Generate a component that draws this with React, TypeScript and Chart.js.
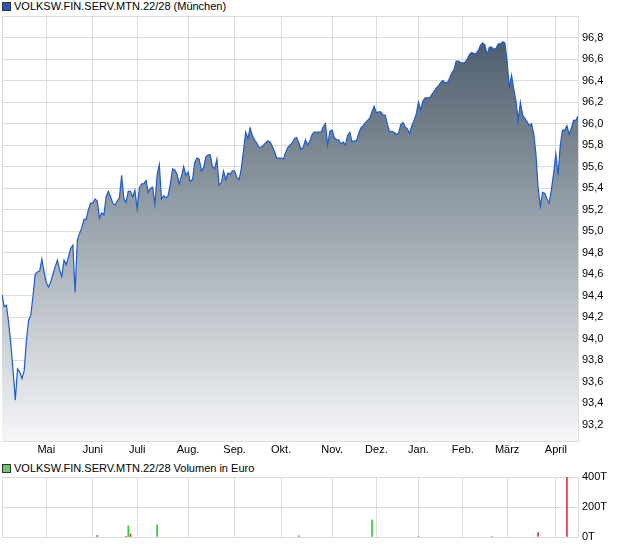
import React, { useEffect, useRef } from 'react';
import { Chart, registerables } from 'chart.js';

Chart.register(...registerables);

const TITLE = 'VOLKSW.FIN.SERV.MTN.22/28 (München)';
const VOLUME_TITLE = 'VOLKSW.FIN.SERV.MTN.22/28 Volumen in Euro';

// month labels and the trading-day index where each month starts
const monthLabels = ['Mai', 'Juni', 'Juli', 'Aug.', 'Sep.', 'Okt.', 'Nov.', 'Dez.', 'Jan.', 'Feb.', 'März', 'April'];
const monthStartIndex = [20, 41, 61, 84, 105, 126, 149, 169, 188, 208, 228, 250];

// daily prices (one per trading day)
const priceValues = [
  94.41, 94.30, 94.31, 94.15, 93.95, 93.70, 93.43, 93.72, 93.69, 93.63,
  93.70, 93.98, 94.17, 94.22, 94.40, 94.60, 94.62, 94.63, 94.74, 94.62,
  94.52, 94.48, 94.53, 94.60, 94.67, 94.73, 94.64, 94.58, 94.73, 94.69,
  94.76, 94.84, 94.87, 94.43, 94.92, 94.98, 95.03, 95.11, 95.11, 95.20,
  95.26, 95.26, 95.30, 95.28, 95.12, 95.17, 95.15, 95.32, 95.37, 95.32,
  95.26, 95.24, 95.28, 95.31, 95.52, 95.30, 95.27, 95.37, 95.37, 95.32,
  95.38, 95.21, 95.40, 95.44, 95.44, 95.47, 95.36, 95.40, 95.41, 95.25,
  95.52, 95.62, 95.30, 95.33, 95.31, 95.33, 95.44, 95.58, 95.57, 95.53,
  95.44, 95.51, 95.60, 95.52, 95.55, 95.46, 95.48, 95.64, 95.68, 95.67,
  95.56, 95.59, 95.69, 95.71, 95.71, 95.60, 95.58, 95.67, 95.43, 95.45,
  95.56, 95.48, 95.54, 95.53, 95.56, 95.56, 95.50, 95.48, 95.58, 95.75,
  95.92, 95.86, 95.96, 95.89, 95.85, 95.82, 95.78, 95.78, 95.80, 95.82,
  95.84, 95.83, 95.79, 95.74, 95.68, 95.68, 95.68, 95.67, 95.73, 95.78,
  95.80, 95.82, 95.86, 95.87, 95.82, 95.76, 95.78, 95.85, 95.80, 95.84,
  95.90, 95.92, 95.92, 95.92, 95.92, 95.97, 96.00, 95.80, 95.93, 95.94,
  95.87, 95.85, 95.85, 95.81, 95.83, 95.80, 95.89, 95.92, 95.83, 95.84,
  95.84, 95.91, 95.96, 95.98, 96.01, 96.03, 96.05, 96.11, 96.16, 96.10,
  96.11, 96.11, 96.08, 96.08, 95.99, 95.92, 95.93, 95.92, 95.90, 95.91,
  95.99, 96.01, 95.97, 95.95, 95.91, 95.98, 96.03, 96.09, 96.20, 96.13,
  96.21, 96.24, 96.24, 96.24, 96.27, 96.30, 96.33, 96.35, 96.38, 96.40,
  96.38, 96.38, 96.42, 96.47, 96.50, 96.58, 96.58, 96.57, 96.56, 96.57,
  96.60, 96.64, 96.66, 96.65, 96.65, 96.68, 96.73, 96.75, 96.73, 96.64,
  96.71, 96.71, 96.69, 96.70, 96.74, 96.74, 96.76, 96.75, 96.58, 96.34,
  96.45, 96.32, 96.21, 96.03, 96.20, 96.08, 96.05, 96.02, 95.98, 96.00,
  95.91, 95.72, 95.40, 95.23, 95.36, 95.35, 95.30, 95.26, 95.39, 95.54,
  95.72, 95.52, 95.80, 95.94, 95.94, 95.98, 95.90, 95.96, 96.03, 96.03,
  96.07,
];

const priceTicks = [93.2, 93.4, 93.6, 93.8, 94.0, 94.2, 94.4, 94.6, 94.8, 95.0, 95.2, 95.4, 95.6, 95.8, 96.0, 96.2, 96.4, 96.6, 96.8, 97.0];
const priceMin = 93.05;
const priceMax = 97.0;

// volume (thousand euro) on the days that traded
const volumeIndex = [43, 56, 57, 58, 70, 134, 167, 188, 221, 242, 255];
const volumeValues = [10, 4, 75, 20, 80, 8, 115, 3, 3, 30, 450];
const volumeUp = [false, false, true, false, true, false, true, true, true, false, false];
const volumeTicks = [0, 200, 400];

const GRID = '#dcdcdc';
const FONT = "'Liberation Sans', Arial, sans-serif";

export default function App() {
  const mainRef = useRef<HTMLCanvasElement>(null);
  const volRef = useRef<HTMLCanvasElement>(null);

  useEffect(() => {
    Chart.defaults.font.family = FONT;
    Chart.defaults.font.size = 11;
    Chart.defaults.color = '#000';

    const lastIndex = priceValues.length - 1;
    const xTickValues = [0, ...monthStartIndex, lastIndex];
    const labelFor = (v: number) => {
      const k = monthStartIndex.indexOf(v);
      return k >= 0 ? monthLabels[k] : '';
    };

    const main = new Chart(mainRef.current!, {
      type: 'line',
      data: {
        datasets: [
          {
            label: TITLE,
            data: priceValues.map((y, i) => ({ x: i, y })),
            borderColor: '#1d5ccc',
            borderWidth: 1.2,
            pointRadius: 0,
            tension: 0,
            fill: 'start',
            backgroundColor: (ctx: any) => {
              const chart = ctx.chart;
              const area = chart.chartArea;
              if (!area) return 'rgba(0,0,0,0)';
              const g = chart.ctx.createLinearGradient(0, area.top, 0, area.bottom);
              g.addColorStop(0, '#435563');
              g.addColorStop(1, '#f6f7f9');
              return g;
            },
          },
        ],
      },
      options: {
        responsive: false,
        animation: false,
        layout: { padding: { top: 16, left: 2, right: 0, bottom: 0 } },
        plugins: { legend: { display: false }, tooltip: { enabled: false } },
        scales: {
          x: {
            type: 'linear',
            min: 0,
            max: lastIndex,
            afterBuildTicks: (s: any) => {
              s.ticks = xTickValues.map((v) => ({ value: v }));
            },
            afterFit: (s: any) => {
              s.height = 18;
              s.paddingLeft = 0;
              s.paddingRight = 0;
            },
            ticks: {
              autoSkip: false,
              maxRotation: 0,
              padding: 2,
              callback: (v: any) => labelFor(Number(v)),
            },
            grid: { color: GRID, drawTicks: false },
            border: { color: GRID },
          },
          y: {
            position: 'right',
            min: priceMin,
            max: priceMax,
            afterBuildTicks: (s: any) => {
              s.ticks = priceTicks.map((v) => ({ value: v }));
            },
            afterFit: (s: any) => {
              s.width = 42;
              s.paddingTop = 0;
              s.paddingBottom = 0;
            },
            ticks: {
              padding: 4,
              callback: (v: any) => (Number(v) > 96.9 ? '' : Number(v).toFixed(1).replace('.', ',')),
            },
            grid: { color: GRID, drawTicks: false },
            border: { color: GRID },
          },
        },
      } as any,
    });

    const vol = new Chart(volRef.current!, {
      type: 'bar',
      data: {
        datasets: [
          {
            label: VOLUME_TITLE,
            data: volumeIndex.map((x, k) => ({ x, y: volumeValues[k] })),
            backgroundColor: volumeUp.map((u) => (u ? '#2ecc2e' : '#e63232')),
            barThickness: 1,
            clip: 0,
          } as any,
        ],
      },
      options: {
        responsive: false,
        animation: false,
        layout: { padding: { top: 7, left: 2, right: 0, bottom: 9 } },
        plugins: { legend: { display: false }, tooltip: { enabled: false } },
        scales: {
          x: {
            type: 'linear',
            min: 0,
            max: lastIndex,
            offset: false,
            afterBuildTicks: (s: any) => {
              s.ticks = xTickValues.map((v) => ({ value: v }));
            },
            afterFit: (s: any) => {
              s.height = 0;
              s.paddingLeft = 0;
              s.paddingRight = 0;
            },
            ticks: { display: false },
            grid: { color: GRID, drawTicks: false, offset: false },
            border: { color: GRID },
          },
          y: {
            position: 'right',
            min: 0,
            max: 400,
            afterBuildTicks: (s: any) => {
              s.ticks = volumeTicks.map((v) => ({ value: v }));
            },
            afterFit: (s: any) => {
              s.width = 42;
              s.paddingTop = 0;
              s.paddingBottom = 0;
            },
            ticks: { padding: 4, callback: (v: any) => `${v}T` },
            grid: { color: GRID, drawTicks: false },
            border: { color: GRID },
          },
        },
      } as any,
    });

    return () => {
      main.destroy();
      vol.destroy();
    };
  }, []);

  const legendStyle: React.CSSProperties = {
    position: 'absolute',
    left: 2,
    height: 12,
    display: 'flex',
    alignItems: 'center',
    fontFamily: FONT,
    fontSize: 11,
    lineHeight: '12px',
    color: '#000',
    whiteSpace: 'nowrap',
  };
  const box = (fill: string): React.CSSProperties => ({
    width: 7,
    height: 7,
    background: fill,
    border: '1px solid #333',
    marginRight: 3,
  });

  return (
    <div style={{ position: 'fixed', left: 0, top: 0, width: 620, height: 546, background: '#fff' }}>
      <div style={{ ...legendStyle, top: 0 }}>
        <span style={box('#2356c0')} />
        <span>{TITLE}</span>
      </div>
      <canvas ref={mainRef} width={620} height={459} style={{ position: 'absolute', left: 0, top: 0 }} />
      <div style={{ ...legendStyle, top: 462 }}>
        <span style={box('#66cc66')} />
        <span>{VOLUME_TITLE}</span>
      </div>
      <canvas ref={volRef} width={620} height={76} style={{ position: 'absolute', left: 0, top: 470 }} />
    </div>
  );
}
